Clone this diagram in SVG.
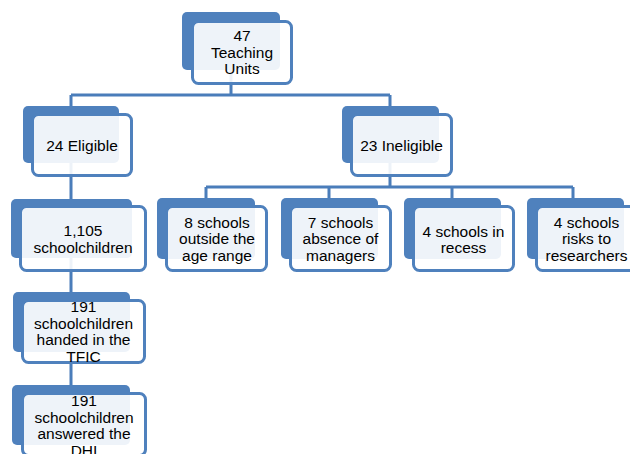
<svg xmlns="http://www.w3.org/2000/svg" width="630" height="454" viewBox="0 0 630 454">
<style>
.bk{fill:#4F81BD;}
.fr{fill:#FFFFFF;fill-opacity:0.9;stroke:#4F81BD;stroke-width:3;}
.ln{fill:none;stroke:#4A7DBA;stroke-width:3;}
text{font-family:"Liberation Sans",Arial,sans-serif;font-size:15.5px;fill:#000;text-anchor:middle;}
</style>
<rect width="630" height="454" fill="#FFFFFF"/>
<g id="connectors">
<path class="ln" d="M231 70V95M71 95H390M71 95V106M390 95V106"/>
<path class="ln" d="M390 163V187M206 187H573M206 187V198M329 187V198M452 187V198M573 187V198"/>
<path class="ln" d="M71 163V199M71 258V292M71 352V385"/>
</g>
<g id="n47">
<rect class="bk" x="182" y="12" width="98" height="58" rx="5"/>
<rect class="fr" x="192.5" y="21.5" width="99" height="62" rx="6"/>
<text x="242" y="41">47</text><text x="242" y="57.5">Teaching</text><text x="242" y="74">Units</text>
</g>
<g id="eligible">
<rect class="bk" x="23" y="106" width="96" height="57" rx="5"/>
<rect class="fr" x="32.5" y="114.5" width="99" height="61" rx="6"/>
<text x="82" y="151">24 Eligible</text>
</g>
<g id="ineligible">
<rect class="bk" x="342" y="106" width="97" height="57" rx="5"/>
<rect class="fr" x="351.5" y="114.5" width="100" height="61" rx="6"/>
<text x="401.5" y="151">23 Ineligible</text>
</g>
<g id="c1">
<rect class="bk" x="157" y="198" width="98" height="61" rx="5"/>
<rect class="fr" x="166.5" y="206.5" width="100" height="64" rx="6"/>
<text x="217" y="227.5">8 schools</text><text x="217" y="244">outside the</text><text x="217" y="260.5">age range</text>
</g>
<g id="c2">
<rect class="bk" x="281" y="198" width="97" height="61" rx="5"/>
<rect class="fr" x="290.5" y="206.5" width="100" height="64" rx="6"/>
<text x="340.5" y="227.5">7 schools</text><text x="340.5" y="244">absence of</text><text x="340.5" y="260.5">managers</text>
</g>
<g id="c3">
<rect class="bk" x="404" y="198" width="97" height="61" rx="5"/>
<rect class="fr" x="413.5" y="206.5" width="100" height="64" rx="6"/>
<text x="463.5" y="237">4 schools in</text><text x="463.5" y="253">recess</text>
</g>
<g id="c4">
<rect class="bk" x="527" y="198" width="97" height="61" rx="5"/>
<rect class="fr" x="536.5" y="206.5" width="100" height="64" rx="6"/>
<text x="586.5" y="227.5">4 schools</text><text x="586.5" y="244">risks to</text><text x="586.5" y="260.5">researchers</text>
</g>
<g id="pupils">
<rect class="bk" x="11" y="199" width="121" height="59" rx="5"/>
<rect class="fr" x="20.5" y="206.5" width="125" height="64" rx="6"/>
<text x="83" y="236">1,105</text><text x="83" y="252.5">schoolchildren</text>
</g>
<g id="tfic">
<rect class="bk" x="13" y="292" width="117" height="60" rx="5"/>
<rect class="fr" x="22.5" y="300.5" width="122" height="62" rx="6"/>
<text x="83.5" y="312">191</text><text x="83.5" y="328.5">schoolchildren</text><text x="83.5" y="345">handed in the</text><text x="83.5" y="361.5">TFIC</text>
</g>
<g id="dhi">
<rect class="bk" x="12" y="385" width="118" height="60" rx="5"/>
<rect class="fr" x="22.5" y="393.5" width="123" height="62" rx="6"/>
<text x="84" y="406">191</text><text x="84" y="422.5">schoolchildren</text><text x="84" y="439">answered the</text><text x="84" y="455.5">DHI</text>
</g>
</svg>
